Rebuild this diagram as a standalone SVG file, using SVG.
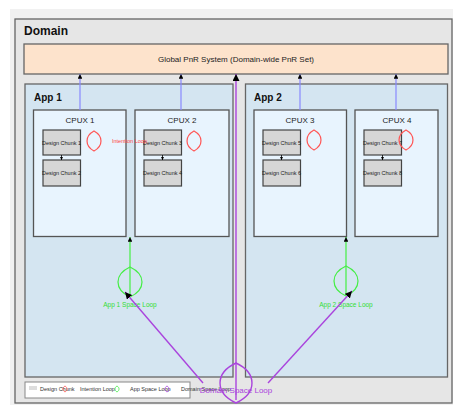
<svg xmlns="http://www.w3.org/2000/svg" width="453" height="405" viewBox="0 0 453 405">
<defs>
<style>
text{font-family:"Liberation Sans",Arial,sans-serif}
.box{stroke:#666;stroke-width:1.3}
.cpux{fill:#e8f4fe;stroke:#555;stroke-width:1.3}
.chunk{fill:#d6d6d6;stroke:#444;stroke-width:1.2}
.ct{font-size:5.5px;fill:#222;text-anchor:middle}
.cl{font-size:8px;fill:#222;text-anchor:middle}
.app{font-size:10px;font-weight:bold;fill:#111}
.blue{stroke:#8888ff;stroke-width:1.2;fill:none}
.red{stroke:#ff5555;stroke-width:1.2;fill:none}
.green{stroke:#44ee44;stroke-width:1.2;fill:none}
.purple{stroke:#aa44dd;stroke-width:1.4;fill:none}
.lg{font-size:5.5px;fill:#333}
</style>
<marker id="ah" viewBox="0 0 6 6" refX="6" refY="3" markerWidth="4" markerHeight="4" orient="auto"><path d="M0,0L6,3L0,6Z" fill="#000"/></marker>
<marker id="ahL" viewBox="0 0 6 6" refX="6" refY="3" markerWidth="5" markerHeight="5" orient="auto"><path d="M0,0L6,3L0,6Z" fill="#000"/></marker>
</defs>
<rect x="0" y="0" width="453" height="405" fill="#fff"/>
<rect x="10" y="9" width="443" height="396" fill="#f1f1f1"/>
<g id="domain">
<rect x="15" y="19" width="437" height="384" fill="#e6e6e6" class="box"/>
<text x="24" y="35" font-size="12" font-weight="bold" fill="#111">Domain</text>
</g>
<g id="pnr">
<rect x="24" y="44" width="424" height="30" fill="#fde3cc" class="box"/>
<text x="236" y="62" font-size="8" fill="#222" text-anchor="middle">Global PnR System (Domain-wide PnR Set)</text>
</g>
<g id="app1">
<rect x="25" y="84" width="208" height="293" fill="#d4e5f1" class="box"/>
<text x="34" y="101" class="app">App 1</text>
</g>
<g id="app2">
<rect x="245.5" y="84" width="202" height="293" fill="#d4e5f1" class="box"/>
<text x="254" y="101" class="app">App 2</text>
</g>
<g id="cpux1"><rect x="33.5" y="110" width="92.5" height="126.5" class="cpux"/><text x="80" y="123" class="cl">CPUX 1</text></g>
<g id="cpux2"><rect x="135" y="110" width="94" height="126.5" class="cpux"/><text x="182" y="123" class="cl">CPUX 2</text></g>
<g id="cpux3"><rect x="254" y="110" width="92.5" height="126.5" class="cpux"/><text x="300" y="123" class="cl">CPUX 3</text></g>
<g id="cpux4"><rect x="355" y="110" width="83" height="126.5" class="cpux"/><text x="397" y="123" class="cl">CPUX 4</text></g>
<g id="chunk1"><rect x="43" y="130" width="37.5" height="25" class="chunk"/><text x="61.5" y="145" class="ct">Design Chunk 1</text></g>
<g id="chunk2"><rect x="43" y="160" width="37.5" height="26" class="chunk"/><text x="61.5" y="175" class="ct">Design Chunk 2</text></g>
<g id="chunk3"><rect x="144" y="130" width="37.5" height="25" class="chunk"/><text x="162.5" y="145" class="ct">Design Chunk 3</text></g>
<g id="chunk4"><rect x="144" y="160" width="37.5" height="26" class="chunk"/><text x="162.5" y="175" class="ct">Design Chunk 4</text></g>
<g id="chunk5"><rect x="263" y="130" width="37.5" height="25" class="chunk"/><text x="281.5" y="145" class="ct">Design Chunk 5</text></g>
<g id="chunk6"><rect x="263" y="160" width="37.5" height="26" class="chunk"/><text x="281.5" y="175" class="ct">Design Chunk 6</text></g>
<g id="chunk7"><rect x="364" y="130" width="37.5" height="25" class="chunk"/><text x="382.5" y="145" class="ct">Design Chunk 7</text></g>
<g id="chunk8"><rect x="364" y="160" width="37.5" height="26" class="chunk"/><text x="382.5" y="175" class="ct">Design Chunk 8</text></g>
<g id="intention-loops">
<path class="red" d="M94,131 C103.3,136 103.3,146 94,151 C84.7,146 84.7,136 94,131Z"/>
<path class="red" d="M194,131 C203.3,136 203.3,146 194,151 C184.7,146 184.7,136 194,131Z"/>
<path class="red" d="M314,130 C323.3,135 323.3,145 314,150 C304.7,145 304.7,135 314,130Z"/>
<path class="red" d="M406,130 C415.3,135 415.3,145 406,150 C396.7,145 396.7,135 406,130Z"/>
<text x="112" y="143" font-size="5.5" fill="#ff4444">Intention Loop</text>
</g>
<g id="app-loops">
<path class="green" d="M130,267 C146,274.5 146,289.5 130,297 C114,289.5 114,274.5 130,267Z"/>
<path class="green" d="M346,266 C362,273.5 362,288.5 346,296 C330,288.5 330,273.5 346,266Z"/>
<text x="130" y="307" font-size="6.5" fill="#33dd33" text-anchor="middle">App 1 Space Loop</text>
<text x="346" y="307" font-size="6.5" fill="#33dd33" text-anchor="middle">App 2 Space Loop</text>
</g>
<g id="connectors">
<line class="blue" x1="80" y1="110" x2="80" y2="74" marker-end="url(#ah)"/>
<line class="blue" x1="181" y1="110" x2="181" y2="74" marker-end="url(#ah)"/>
<line class="blue" x1="300" y1="110" x2="300" y2="74" marker-end="url(#ah)"/>
<line class="blue" x1="396" y1="110" x2="396" y2="74" marker-end="url(#ah)"/>
<line x1="61.5" y1="155" x2="61.5" y2="160" stroke="#000" stroke-width="0.8" marker-end="url(#ah)"/>
<line x1="162.5" y1="155" x2="162.5" y2="160" stroke="#000" stroke-width="0.8" marker-end="url(#ah)"/>
<line x1="281.5" y1="155" x2="281.5" y2="160" stroke="#000" stroke-width="0.8" marker-end="url(#ah)"/>
<line x1="382.5" y1="155" x2="382.5" y2="160" stroke="#000" stroke-width="0.8" marker-end="url(#ah)"/>
<line class="green" x1="130" y1="295" x2="130" y2="237" marker-end="url(#ah)"/>
<line class="green" x1="346" y1="295" x2="346" y2="237" marker-end="url(#ah)"/>
<line class="purple" x1="236" y1="400" x2="236" y2="74" marker-end="url(#ahL)"/>
<line class="purple" x1="203" y1="383" x2="125" y2="292" marker-end="url(#ahL)"/>
<line class="purple" x1="268" y1="383" x2="352" y2="291" marker-end="url(#ahL)"/>
</g>
<g id="legend">
<rect x="25" y="382" width="165" height="16" fill="#fff" stroke="#888" stroke-width="1"/>
<rect x="29" y="386" width="8" height="4" fill="#ddd"/>
<text x="40" y="391" class="lg">Design Chunk</text>
<path d="M65,386 C67.7,387.5 67.7,390.5 65,392 C62.3,390.5 62.3,387.5 65,386Z" stroke="#ff5555" stroke-width="0.8" fill="none"/>
<text x="80" y="391" class="lg">Intention Loop</text>
<path d="M117,386 C119.7,387.5 119.7,390.5 117,392 C114.3,390.5 114.3,387.5 117,386Z" stroke="#44ee44" stroke-width="0.8" fill="none"/>
<text x="130" y="391" class="lg">App Space Loop</text>
<path d="M167,386 C169.7,387.5 169.7,390.5 167,392 C164.3,390.5 164.3,387.5 167,386Z" stroke="#aa44dd" stroke-width="0.8" fill="none"/>
<text x="181" y="391" class="lg">Domain Space Loop</text>
</g>
<g id="domain-loop">
<path class="purple" d="M236,363 C257.3,373 257.3,393 236,403 C214.7,393 214.7,373 236,363Z"/>
<text x="236" y="393" font-size="8" fill="#aa44dd" text-anchor="middle">Domain Space Loop</text>
</g>
</svg>
